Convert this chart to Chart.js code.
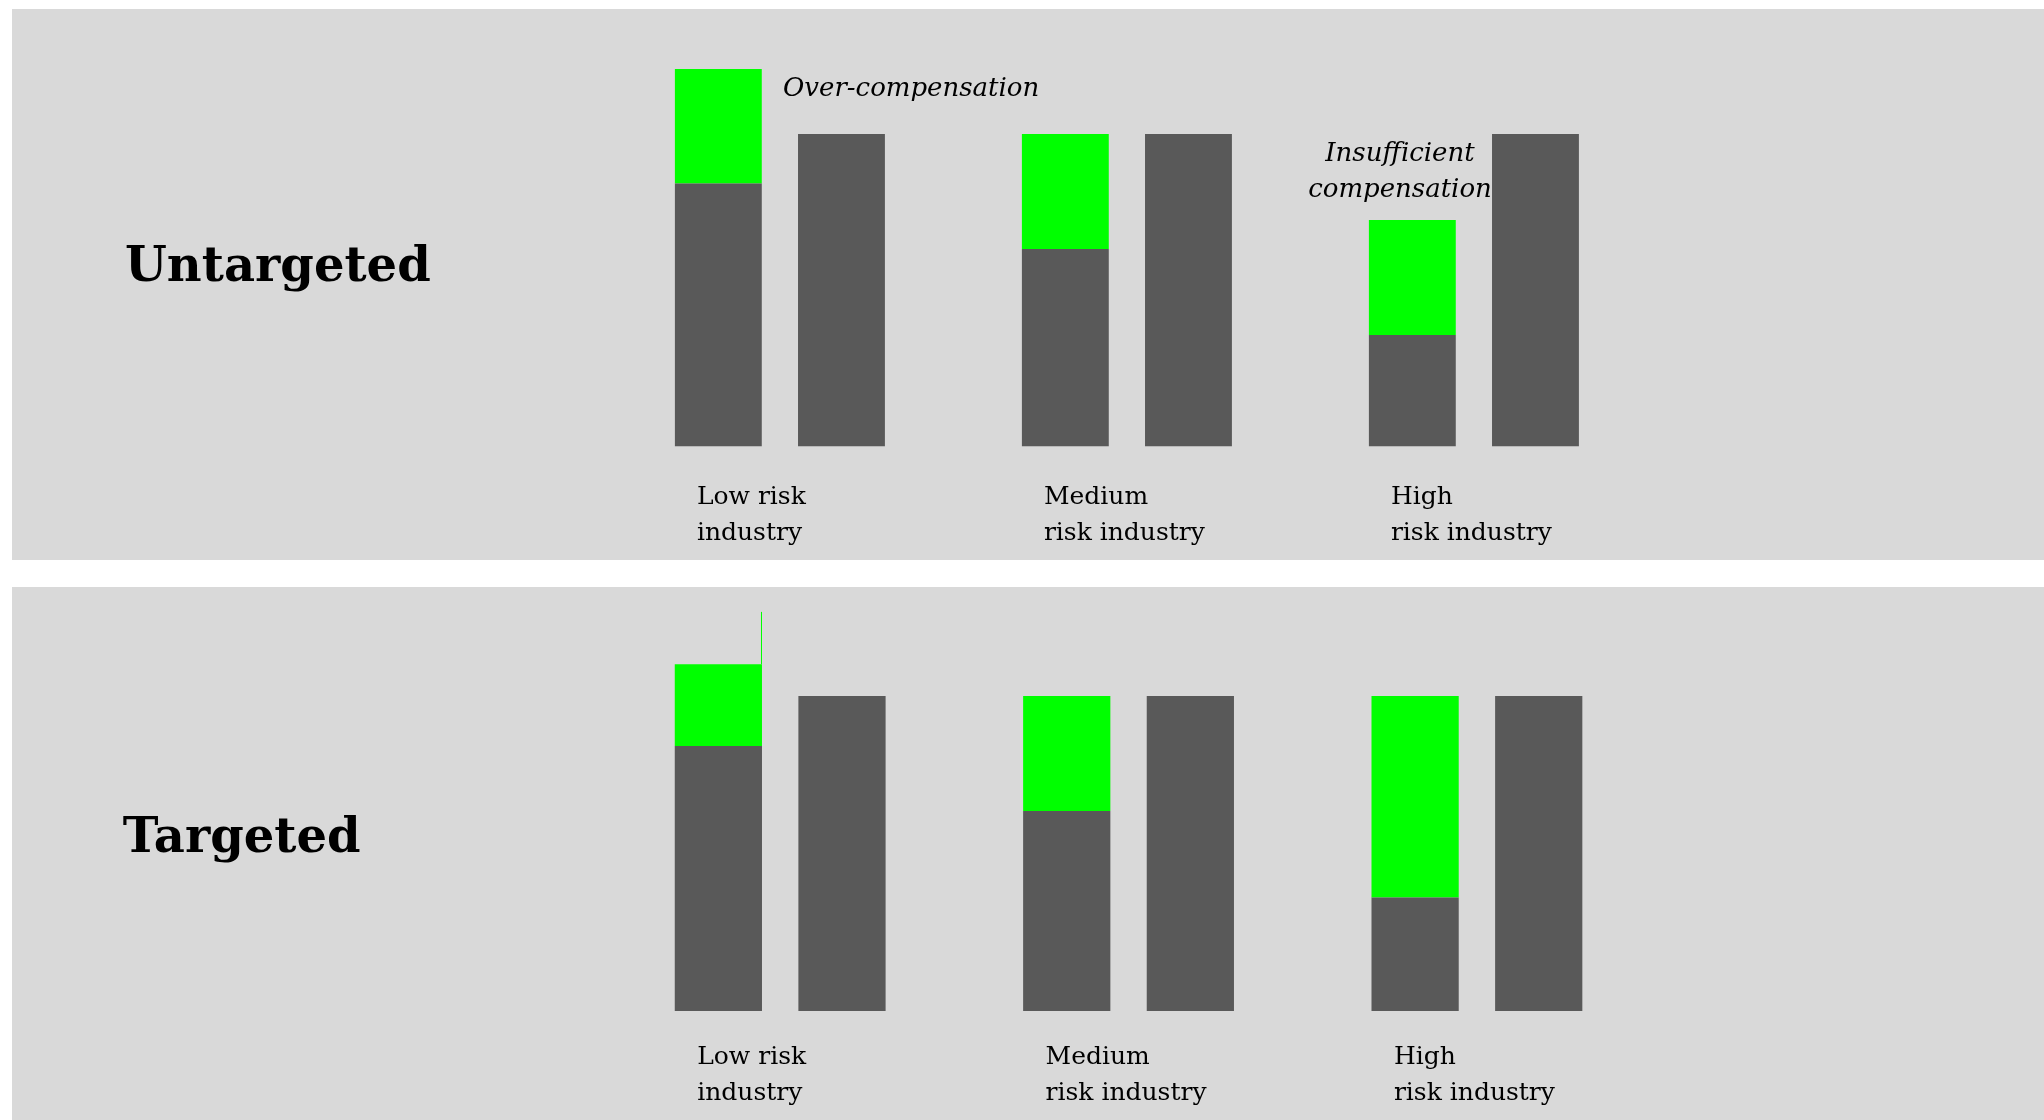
<!DOCTYPE html>
<html>
<head>
<meta charset="utf-8">
<script src="https://cdn.jsdelivr.net/npm/chart.js@4/dist/chart.umd.min.js"></script>
<style>
  html, body { margin: 0; padding: 0; background: #ffffff; width: 2044px; height: 1120px; overflow: hidden; }
  .panel { position: absolute; background: #d9d9d9; }
  canvas { position: absolute; left: 0; top: 0; }
</style>
</head>
<body>
<div class="panel" id="p1" style="left:12px; top:9px; width:2032px; height:551px;"><canvas id="c1" width="2032" height="551"></canvas></div>
<div class="panel" id="p2" style="left:12px; top:587px; width:2032px; height:533px;"><canvas id="c2" width="2032" height="533"></canvas></div>
<script>
// ---- data ----
const categories = [["Low risk", "industry"], ["Medium", "risk industry"], ["High", "risk industry"]];
const panelTitles = ["Untargeted", "Targeted"];

const untargetedBase = [84.2, 63.2, 35.7];
const untargetedComp = [36.6, 36.8, 36.8];
const untargetedRef  = [100, 100, 100];

const targetedBase = [84.1, 63.5, 36.0];
const targetedComp = [26.0, 36.5, 64.0];
const targetedRef  = [100, 100, 100];
const targetedMarkerTop = [126.7, null, null];

const yMin = 0;
const yMax = 130;

// ---- styles ----
const GRAY = '#595959';
const GREEN = '#00ff00';
const FONT = '"DejaVu Serif", Georgia, serif';

const panelTextPlugin = {
  id: 'panelText',
  afterDraw(chart, args, opts) {
    const ctx = chart.ctx;
    ctx.save();
    ctx.fillStyle = '#000';
    ctx.textBaseline = 'alphabetic';
    (opts.items || []).forEach(it => {
      ctx.font = it.font;
      ctx.textAlign = it.align || 'left';
      ctx.fillText(it.text, it.x, it.y);
    });
    ctx.restore();
  }
};

const markerPlugin = {
  id: 'marker',
  afterDatasetsDraw(chart, args, opts) {
    const vals = opts.values;
    if (!vals) return;
    const meta = chart.getDatasetMeta(1);
    const ys = chart.scales.y;
    const ctx = chart.ctx;
    ctx.save();
    ctx.fillStyle = GREEN;
    vals.forEach((v, i) => {
      if (v === null || v === undefined) return;
      const el = meta.data[i];
      const right = el.x + el.width / 2;
      const top = ys.getPixelForValue(v);
      ctx.fillRect(right - 1, top, 1, el.y - top);
    });
    ctx.restore();
  }
};

function makeChart(canvasId, base, comp, ref, marker, layout, texts) {
  return new Chart(document.getElementById(canvasId), {
    type: 'bar',
    data: {
      labels: categories,
      datasets: [
        { label: 'Base', data: base, backgroundColor: GRAY, stack: 'a' },
        { label: 'Compensation', data: comp, backgroundColor: GREEN, stack: 'a' },
        { label: 'Reference', data: ref, backgroundColor: GRAY, stack: 'b' }
      ]
    },
    options: {
      responsive: false,
      animation: false,
      devicePixelRatio: 1,
      events: [],
      layout: { padding: layout.padding },
      datasets: { bar: { categoryPercentage: 0.7097, barPercentage: 0.7056, borderWidth: 0 } },
      scales: {
        x: {
          stacked: true,
          grid: { display: false, drawTicks: false },
          border: { display: false },
          ticks: {
            color: '#000',
            font: { family: FONT, size: 25, lineHeight: 1.43 },
            align: 'start',
            labelOffset: -83,
            padding: layout.tickPadding,
            maxRotation: 0,
            autoSkip: false
          },
          afterFit: (s) => { s.height = layout.axisHeight; }
        },
        y: {
          stacked: true,
          display: false,
          min: yMin,
          max: yMax
        }
      },
      plugins: {
        legend: { display: false },
        tooltip: { enabled: false },
        title: { display: false },
        panelText: { items: texts },
        marker: { values: marker }
      }
    },
    plugins: [panelTextPlugin, markerPlugin]
  });
}

makeChart('c1', untargetedBase, untargetedComp, untargetedRef, null,
  { padding: { left: 594.4, right: 396.6, top: 31.25, bottom: 0 }, axisHeight: 113.5, tickPadding: 33 },
  [
    { text: panelTitles[0], x: 113, y: 271.5, font: 'bold 48px ' + FONT },
    { text: 'Over-compensation', x: 771, y: 87, font: 'italic 26px ' + FONT },
    { text: 'Insufficient', x: 1388, y: 151.7, font: 'italic 26px ' + FONT, align: 'center' },
    { text: 'compensation', x: 1388, y: 187.7, font: 'italic 26px ' + FONT, align: 'center' }
  ]);

makeChart('c2', targetedBase, targetedComp, targetedRef, targetedMarkerTop,
  { padding: { left: 594.0, right: 392.9, top: 14.5, bottom: 0 }, axisHeight: 109, tickPadding: 28.5 },
  [
    { text: panelTitles[1], x: 110.7, y: 265, font: 'bold 48px ' + FONT }
  ]);
</script>
</body>
</html>
